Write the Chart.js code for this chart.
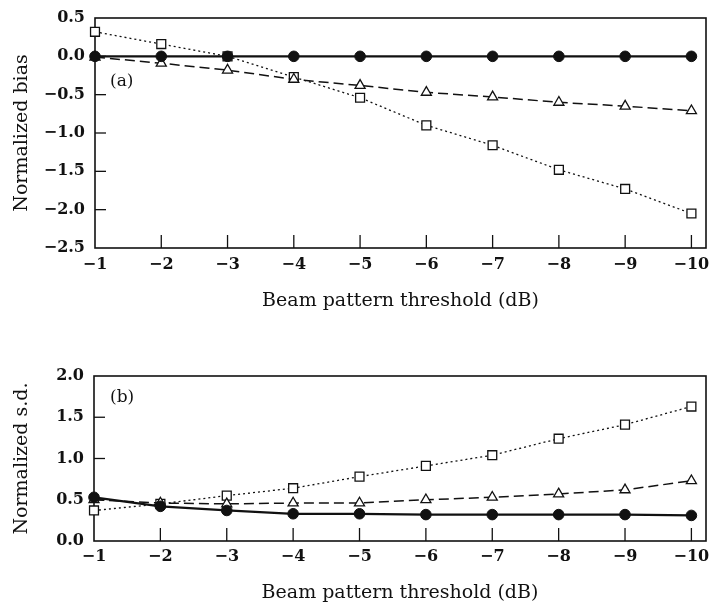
<!DOCTYPE html>
<html>
<head>
<meta charset="utf-8">
<script src="https://cdn.jsdelivr.net/npm/chart.js@4/dist/chart.umd.min.js"></script>
<style>
  html, body { margin: 0; padding: 0; background: #fff; }
  #wrap { position: relative; width: 709px; height: 604px; overflow: hidden; }
  #c1 { position: absolute; left: 0; top: 0; }
  #c2 { position: absolute; left: 0; top: 312px; }
</style>
</head>
<body>
<div id="wrap">
  <canvas id="c1" width="709" height="312"></canvas>
  <canvas id="c2" width="709" height="292"></canvas>
</div>
<script>
// ---- data ----
const thresholds = [-1, -2, -3, -4, -5, -6, -7, -8, -9, -10];
const xTicks = [-1, -2, -3, -4, -5, -6, -7, -8, -9, -10];
const xTickLabels = ['−1', '−2', '−3', '−4', '−5', '−6', '−7', '−8', '−9', '−10'];

// panel (a) normalized bias
const biasCircle   = [0.00, 0.00, 0.00, 0.00, 0.00, 0.00, 0.00, 0.00, 0.00, 0.00];
const biasTriangle = [-0.01, -0.09, -0.18, -0.30, -0.38, -0.47, -0.53, -0.60, -0.65, -0.71];
const biasSquare   = [0.32, 0.16, 0.00, -0.27, -0.54, -0.90, -1.16, -1.48, -1.73, -2.05];
const yTicksA = [0.5, 0.0, -0.5, -1.0, -1.5, -2.0, -2.5];
const yTickLabelsA = ['0.5', '0.0', '−0.5', '−1.0', '−1.5', '−2.0', '−2.5'];

// panel (b) normalized s.d.
const sdCircle   = [0.53, 0.42, 0.37, 0.33, 0.33, 0.32, 0.32, 0.32, 0.32, 0.31];
const sdTriangle = [0.50, 0.46, 0.45, 0.46, 0.46, 0.50, 0.53, 0.57, 0.62, 0.73];
const sdSquare   = [0.37, 0.45, 0.55, 0.64, 0.78, 0.91, 1.04, 1.24, 1.41, 1.63];
const yTicksB = [0.0, 0.5, 1.0, 1.5, 2.0];
const yTickLabelsB = ['0.0', '0.5', '1.0', '1.5', '2.0'];

// ---- rendering ----
const INK = '#111';
Chart.defaults.font.family = "'DejaVu Serif', 'Liberation Serif', serif";
Chart.defaults.color = INK;

const framePlugin = {
  id: 'frame',
  beforeDatasetsDraw(chart, args, opts) {
    const { ctx, chartArea: a, scales } = chart;
    ctx.save();
    ctx.strokeStyle = INK;
    ctx.lineWidth = 1.6;
    ctx.strokeRect(a.left, a.top, a.right - a.left, a.bottom - a.top);
    ctx.lineWidth = 1.3;
    // inward x ticks
    scales.x.ticks.forEach(t => {
      const px = scales.x.getPixelForValue(t.value);
      if (Math.abs(px - a.left) < 2) return;
      ctx.beginPath();
      ctx.moveTo(px, a.bottom);
      ctx.lineTo(px, a.bottom - 13);
      ctx.stroke();
    });
    // inward y ticks
    scales.y.ticks.forEach(t => {
      const py = scales.y.getPixelForValue(t.value);
      if (Math.abs(py - a.top) < 2 || Math.abs(py - a.bottom) < 2) return;
      ctx.beginPath();
      ctx.moveTo(a.left, py);
      ctx.lineTo(a.left + 11, py);
      ctx.stroke();
    });
    // panel label
    ctx.fillStyle = INK;
    ctx.font = "17px 'DejaVu Serif', serif";
    ctx.textBaseline = 'middle';
    ctx.textAlign = 'left';
    ctx.fillText(opts.label, a.left + opts.dx, a.top + opts.dy);
    ctx.restore();
  }
};

function makeDatasets(circle, triangle, square) {
  const pts = v => thresholds.map((x, i) => ({ x: x, y: v[i] }));
  return [
    { data: pts(circle), borderColor: INK, backgroundColor: INK, borderWidth: 2.3,
      pointStyle: 'circle', pointRadius: 5.3, pointBorderWidth: 1, pointBackgroundColor: INK, clip: false },
    { data: pts(triangle), borderColor: INK, backgroundColor: '#fff', borderWidth: 1.5, borderDash: [10, 5],
      pointStyle: 'triangle', pointRadius: 5.8, pointBorderWidth: 1.3, pointBackgroundColor: '#fff', clip: false },
    { data: pts(square), borderColor: INK, backgroundColor: '#fff', borderWidth: 1.3, borderDash: [2, 3],
      pointStyle: 'rect', pointRadius: 6.3, pointBorderWidth: 1.3, pointBackgroundColor: '#fff', clip: false }
  ];
}

function makeChart(id, datasets, yMin, yMax, yTicks, yLabels, yTitle, opts) {
  return new Chart(document.getElementById(id), {
    type: 'line',
    data: { datasets },
    options: {
      responsive: false,
      devicePixelRatio: 1,
      animation: false,
      events: [],
      layout: { autoPadding: false, padding: { top: opts.padTop, right: 3, left: 0, bottom: 0 } },
      plugins: {
        legend: { display: false },
        tooltip: { enabled: false },
        frame: { label: opts.label, dx: opts.labelDx, dy: opts.labelDy }
      },
      scales: {
        x: {
          type: 'linear', reverse: true, min: -10.22, max: -1,
          afterBuildTicks: s => { s.ticks = xTicks.map(v => ({ value: v })); },
          ticks: {
            autoSkip: false, maxRotation: 0, padding: 0,
            font: { size: 16, weight: 'bold' }, color: INK,
            callback: v => xTickLabels[xTicks.indexOf(v)]
          },
          grid: { display: true, drawOnChartArea: false, drawTicks: true,
                  tickLength: opts.xTickPad, color: 'rgba(0,0,0,0)' },
          border: { display: false },
          title: { display: true, text: 'Beam pattern threshold (dB)', color: INK,
                   font: { size: 19 }, padding: { top: opts.xTitlePad, bottom: 0 } },
          afterFit: s => { s.height = opts.xHeight; s.paddingLeft = 0; s.paddingRight = 0; }
        },
        y: {
          type: 'linear', min: yMin, max: yMax,
          afterBuildTicks: s => { s.ticks = yTicks.map(v => ({ value: v })); },
          ticks: {
            autoSkip: false, padding: 10, font: { size: 16, weight: 'bold' }, color: INK,
            callback: v => yLabels[yTicks.indexOf(v)]
          },
          grid: { display: false, drawTicks: false },
          border: { display: false },
          title: { display: true, text: yTitle, color: INK,
                   font: { size: 19 }, padding: { top: 11, bottom: 0 } },
          afterFit: s => { s.width = opts.yWidth; s.paddingTop = 0; s.paddingBottom = 0; }
        }
      }
    },
    plugins: [framePlugin]
  });
}

makeChart('c1', makeDatasets(biasCircle, biasTriangle, biasSquare), -2.5, 0.5,
  yTicksA, yTickLabelsA, 'Normalized bias',
  { padTop: 18, xHeight: 64, yWidth: 95, xTickPad: 7, xTitlePad: 2, label: '(a)', labelDx: 15, labelDy: 64 });

makeChart('c2', makeDatasets(sdCircle, sdTriangle, sdSquare), 0, 2.0,
  yTicksB, yTickLabelsB, 'Normalized s.d.',
  { padTop: 64, xHeight: 63, yWidth: 94, xTickPad: 6, xTitlePad: 0, label: '(b)', labelDx: 16, labelDy: 22 });
</script>
</body>
</html>
